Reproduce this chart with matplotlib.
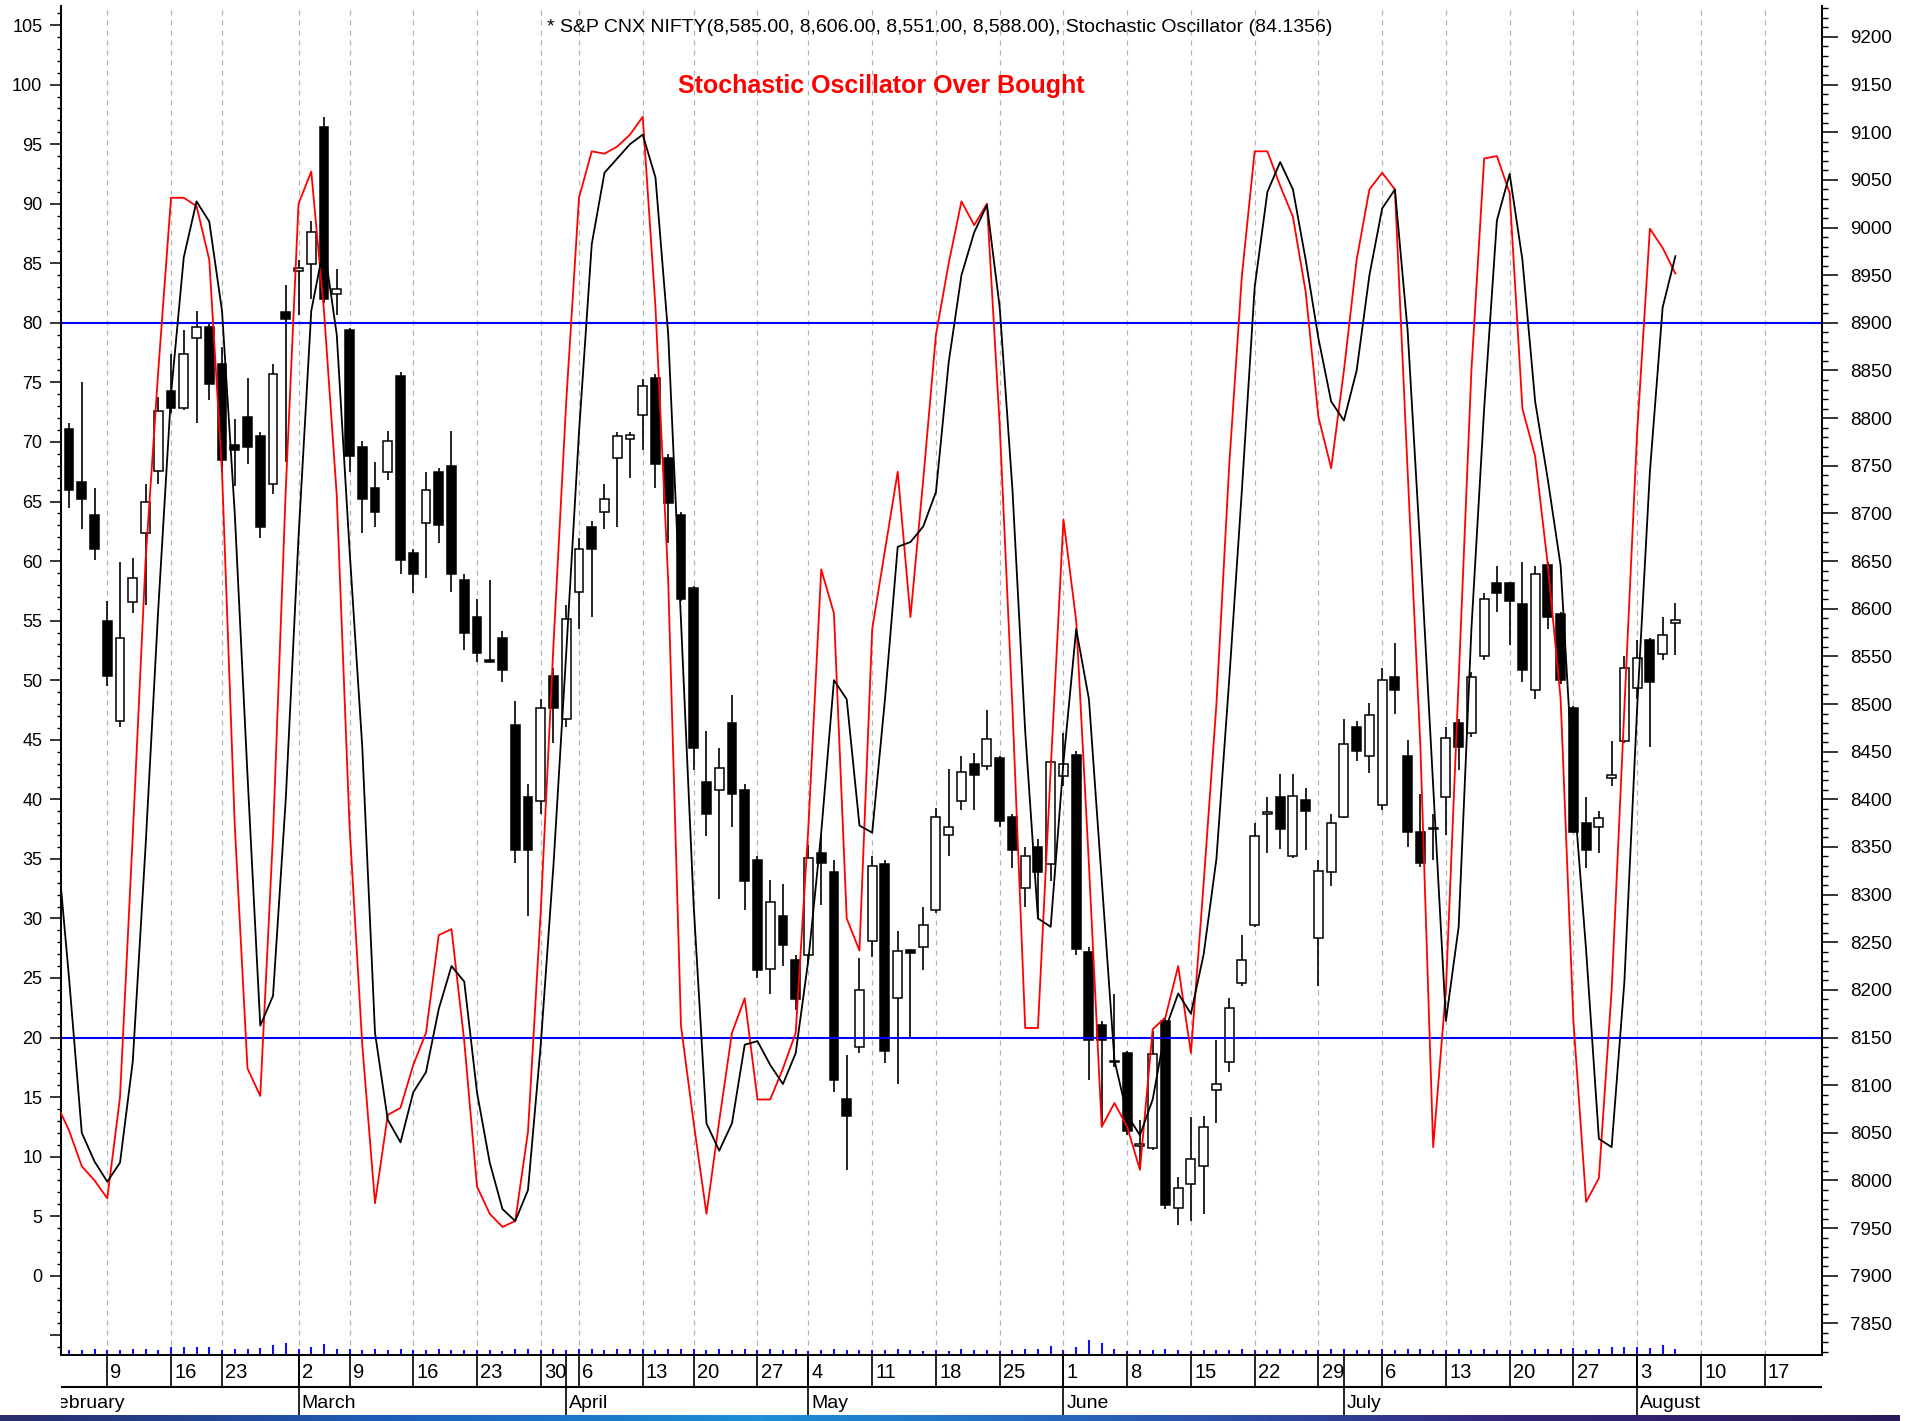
import numpy as np
import pandas as pd
import matplotlib
matplotlib.use('Agg')
import matplotlib.pyplot as plt
from matplotlib.patches import Rectangle
from matplotlib.colors import LinearSegmentedColormap

plt.rcParams['font.family'] = ['Liberation Sans', 'DejaVu Sans']
NARROW = ['Liberation Sans Narrow', 'Liberation Sans', 'DejaVu Sans']

# NSE trading calendar: weekdays minus holidays, plus the Budget Saturday session
holidays = ['2015-02-17', '2015-03-06', '2015-04-02', '2015-04-03', '2015-04-14', '2015-05-01']
extra_sessions = ['2015-02-28']
calendar = pd.bdate_range('2015-02-02', '2015-08-21')
calendar = calendar.drop(pd.to_datetime(holidays)).union(pd.to_datetime(extra_sessions))

# NIFTY daily candles, 4 Feb - 6 Aug 2015
candle_start = '2015-02-04'
opens = [8789, 8733, 8698, 8587, 8482, 8607, 8679, 8745, 8828, 8811,
         8884, 8896, 8857, 8772, 8801, 8781, 8731, 8911, 8954, 8962,
         9106, 8930, 8892, 8770, 8727, 8744, 8844, 8659, 8690, 8744,
         8750, 8630, 8591, 8546, 8569, 8478, 8402, 8398, 8529, 8484,
         8618, 8686, 8702, 8758, 8778, 8803, 8842, 8758, 8698, 8622,
         8418, 8410, 8480, 8410, 8336, 8222, 8278, 8231, 8237, 8344,
         8324, 8086, 8140, 8251, 8332, 8192, 8242, 8245, 8284, 8363,
         8398, 8437, 8435, 8443, 8381, 8307, 8350, 8332, 8424, 8447,
         8240, 8163, 8124, 8134, 8036, 8034, 8167, 7971, 7996, 8015,
         8095, 8124, 8207, 8268, 8385, 8402, 8340, 8399, 8254, 8324,
         8381, 8476, 8445, 8394, 8528, 8445, 8366, 8370, 8402, 8480,
         8470, 8550, 8627, 8627, 8605, 8515, 8646, 8594, 8496, 8375,
         8371, 8422, 8461, 8517, 8567, 8552, 8585]
highs = [8795, 8838, 8727, 8608, 8649, 8653, 8731, 8822, 8867, 8892,
         8912, 8900, 8875, 8799, 8842, 8785, 8857, 8940, 8966, 9007,
         9116, 8956, 8895, 8776, 8754, 8787, 8848, 8663, 8744, 8748,
         8787, 8636, 8610, 8630, 8577, 8503, 8416, 8505, 8538, 8604,
         8674, 8692, 8731, 8785, 8785, 8841, 8846, 8762, 8702, 8624,
         8472, 8454, 8509, 8416, 8340, 8315, 8311, 8237, 8352, 8363,
         8336, 8132, 8233, 8340, 8336, 8262, 8243, 8287, 8391, 8432,
         8445, 8449, 8494, 8445, 8385, 8350, 8358, 8441, 8470, 8451,
         8245, 8167, 8196, 8136, 8064, 8157, 8171, 8004, 8067, 8068,
         8147, 8192, 8258, 8375, 8402, 8427, 8427, 8412, 8336, 8385,
         8484, 8482, 8501, 8538, 8564, 8462, 8406, 8385, 8476, 8484,
         8534, 8616, 8645, 8628, 8649, 8645, 8649, 8597, 8498, 8402,
         8388, 8461, 8550, 8567, 8569, 8591, 8606]
lows = [8706, 8684, 8651, 8519, 8476, 8595, 8604, 8731, 8805, 8809,
        8795, 8819, 8744, 8729, 8752, 8674, 8720, 8754, 8908, 8925,
        8921, 8908, 8744, 8679, 8686, 8735, 8636, 8616, 8632, 8669,
        8618, 8557, 8544, 8544, 8523, 8333, 8278, 8385, 8459, 8476,
        8579, 8591, 8684, 8686, 8737, 8767, 8727, 8669, 8608, 8431,
        8361, 8295, 8371, 8284, 8212, 8196, 8225, 8179, 8229, 8289,
        8093, 8011, 8134, 8235, 8123, 8101, 8149, 8221, 8281, 8340,
        8389, 8389, 8431, 8371, 8328, 8287, 8274, 8314, 8414, 8237,
        8105, 8060, 8119, 8048, 8015, 8032, 7970, 7953, 7957, 7965,
        8060, 8114, 8204, 8266, 8344, 8348, 8338, 8347, 8204, 8309,
        8380, 8440, 8428, 8389, 8490, 8350, 8329, 8336, 8363, 8431,
        8465, 8546, 8597, 8562, 8523, 8505, 8579, 8521, 8365, 8328,
        8344, 8414, 8459, 8505, 8455, 8546, 8551]
closes = [8725, 8715, 8663, 8529, 8569, 8632, 8712, 8807, 8811, 8867,
          8896, 8836, 8756, 8767, 8770, 8686, 8846, 8904, 8958, 8995,
          8925, 8935, 8760, 8715, 8702, 8776, 8651, 8636, 8725, 8688,
          8636, 8575, 8554, 8544, 8536, 8347, 8347, 8496, 8496, 8589,
          8663, 8663, 8715, 8781, 8782, 8834, 8752, 8711, 8610, 8454,
          8385, 8433, 8406, 8314, 8221, 8292, 8247, 8190, 8338, 8333,
          8105, 8068, 8200, 8330, 8136, 8241, 8239, 8268, 8381, 8371,
          8429, 8426, 8463, 8377, 8347, 8340, 8324, 8439, 8437, 8243,
          8147, 8147, 8125, 8052, 8038, 8133, 7974, 7992, 8023, 8056,
          8101, 8181, 8231, 8361, 8387, 8369, 8404, 8388, 8325, 8375,
          8458, 8451, 8488, 8525, 8515, 8366, 8333, 8369, 8464, 8455,
          8528, 8610, 8616, 8608, 8536, 8636, 8591, 8525, 8366, 8347,
          8380, 8426, 8538, 8548, 8523, 8572, 8588]
volume = [5, 5, 6, 5, 5, 6, 6, 5, 8, 8, 8, 8, 5, 6, 6, 7, 10, 12, 6, 8,
          11, 6, 6, 5, 6, 5, 6, 5, 5, 6, 5, 5, 5, 5, 4, 6, 6, 5, 6, 5,
          6, 6, 5, 6, 6, 6, 5, 6, 6, 6, 5, 6, 5, 6, 5, 6, 5, 6, 4, 5,
          6, 5, 5, 5, 5, 6, 5, 4, 5, 4, 6, 5, 5, 4, 5, 6, 6, 9, 5, 8,
          15, 12, 6, 4, 5, 5, 6, 5, 4, 5, 5, 5, 6, 5, 5, 6, 5, 5, 5, 6,
          6, 5, 5, 6, 5, 6, 6, 5, 5, 6, 5, 6, 5, 5, 5, 6, 6, 6, 7, 5,
          6, 8, 8, 8, 7, 10, 6]

# Stochastic oscillator, 3 Feb - 6 Aug 2015
stoch_start = '2015-02-03'
stoch_k = [14.5, 12.2, 9.2, 8.0, 6.5, 15, 37, 60, 76, 90.5,
           90.5, 89.8, 85.3, 67.5, 37.8, 17.4, 15.1, 37, 66, 90,
           92.7, 81, 65.5, 37.8, 19.4, 6.1, 13.5, 14.1, 17.7, 20.4,
           28.6, 29.1, 19.7, 7.5, 5.2, 4.1, 4.6, 12.1, 30.6, 53,
           73.4, 90.5, 94.4, 94.2, 94.8, 95.8, 97.3, 81.3, 58.3, 21,
           12.8, 5.2, 13, 20.4, 23.3, 14.8, 14.8, 17.4, 20.4, 37.8,
           59.3, 55.6, 30, 27.3, 54.3, 60.9, 67.5, 55.3, 66.8, 79,
           85, 90.2, 88.2, 90, 71.4, 47.7, 20.8, 20.8, 42.5, 63.5,
           55, 34.5, 12.5, 14.5, 12.5, 8.9, 20.7, 21.7, 26, 18.7,
           33, 48, 68, 84, 94.4, 94.4, 91.5, 88.9, 82.6, 72.1,
           67.8, 76, 85.3, 91.2, 92.6, 91.2, 67.5, 44.4, 10.8, 24,
           50, 76, 93.8, 94, 90.9, 72.8, 68.8, 59.6, 48.4, 21.4,
           6.2, 8.2, 24, 47.7, 70.8, 87.9, 86.3, 84.1356]
stoch_d = [37, 25, 12, 9.6, 7.9, 9.5, 18, 36, 56, 74,
           85.5, 90.2, 88.5, 81, 64, 42, 21, 23.5, 40, 62,
           81, 86.5, 79, 61, 44.4, 20.4, 13.1, 11.2, 15.4, 17.1,
           22.4, 26, 24.7, 15.4, 9.5, 5.6, 4.6, 7.2, 19.4, 34.5,
           52.3, 70.8, 86.6, 92.6, 93.8, 95, 95.8, 92.2, 79, 55,
           31, 12.8, 10.5, 12.8, 19.4, 19.7, 17.7, 16.1, 18.7, 26.6,
           37.2, 50, 48.4, 37.8, 37.2, 48.4, 61.2, 61.6, 62.9, 65.8,
           76.7, 84, 87.6, 89.9, 81.3, 66, 45.7, 30, 29.3, 43.1,
           54.3, 48.4, 33.2, 18.1, 13.5, 11.8, 14.8, 20.7, 23.7, 22,
           27, 35, 50, 66, 83, 91, 93.5, 91.2, 85.3, 78.7,
           73.4, 71.8, 76, 84, 89.6, 91.2, 79.3, 60.9, 41.1, 21.4,
           29.3, 54.3, 72.8, 88.6, 92.5, 85.3, 73.4, 66.8, 59.6, 41.1,
           27.3, 11.5, 10.8, 24.7, 47.7, 67.5, 81.3, 85.6]
levels = [80, 20]

header = '* S&P CNX NIFTY(8,585.00, 8,606.00, 8,551.00, 8,588.00), Stochastic Oscillator (84.1356)'
title = 'Stochastic Oscillator Over Bought'
month_names = ['February', 'March', 'April', 'May', 'June', 'July', 'August']

# ---- positions on the trading-day axis
pos = {d: i for i, d in enumerate(calendar)}
c0 = pos[pd.Timestamp(candle_start)]
s0 = pos[pd.Timestamp(stoch_start)]
cx = np.arange(c0, c0 + len(opens))
sx = np.arange(s0, s0 + len(stoch_k))
mondays = [pos[d] for d in calendar if d.weekday() == 0]
monday_days = [d.day for d in calendar if d.weekday() == 0]
month_first = pd.Series(calendar).groupby(calendar.month).min()
month_pos = [pos[d] for d in month_first]

feb9 = pos[pd.Timestamp('2015-02-09')]
XLIM = (feb9 - 3.63, feb9 + 134.5)
SLIM = (-6.65, 106.6)
PLIM = (7900 + 12.5 * SLIM[0], 7900 + 12.5 * SLIM[1])  # 20 <-> 8150, 80 <-> 8900

W, H = 1923, 1421
L, R, T, B = 61, 1822, 6, 1355
fig = plt.figure(figsize=(W / 100, H / 100), dpi=100)
fig.patch.set_facecolor('white')

ax = fig.add_axes([L / W, 1 - B / H, (R - L) / W, (B - T) / H])
ax_s = ax.twinx()

# price panel (right scale)
ax.set_xlim(*XLIM)
ax.set_ylim(*PLIM)
for m in mondays:
    ax.axvline(m, color='#b2b2b2', lw=0.9, ls=(0, (4, 4)), zorder=1)
for x, o, h, l, c in zip(cx, opens, highs, lows, closes):
    ax.vlines(x, l, h, color='black', lw=1.2, zorder=2)
    ax.add_patch(Rectangle((x - 0.35, min(o, c)), 0.7, max(abs(c - o), 1.2),
                           facecolor='black' if c < o else 'white',
                           edgecolor='black', lw=1.1, zorder=3))
ax.vlines(cx, 0, np.array(volume) / (B - T), transform=ax.get_xaxis_transform(),
          color='#1010ff', lw=1.5, zorder=2)

ax.yaxis.tick_right()
ax.set_yticks(np.arange(7850, 9201, 50))
ax.set_yticks(np.arange(7820, 9231, 10), minor=True)
ax.tick_params(axis='y', which='major', direction='out', length=11.3, width=1.1,
               pad=9, labelsize=13.5)
ax.tick_params(axis='y', which='minor', direction='out', length=4, width=1)
ax.set_xticks([])

# stochastic panel (left scale)
ax_s.set_ylim(*SLIM)
for lv in levels:
    ax_s.axhline(lv, color='#0000ff', lw=1.5, zorder=2)
ax_s.plot(sx, stoch_k, color='#ff0000', lw=1.3, zorder=4)
ax_s.plot(sx, stoch_d, color='black', lw=1.3, zorder=4)
ax_s.yaxis.tick_left()
left_ticks = np.arange(-5, 106, 5)
ax_s.set_yticks(left_ticks)
ax_s.set_yticklabels([str(v) if v >= 0 else '' for v in left_ticks])
ax_s.set_yticks(np.arange(-6, 107, 1), minor=True)
ax_s.tick_params(axis='y', which='major', direction='out', length=8, width=1.1,
                 pad=5.5, labelsize=13)
ax_s.tick_params(axis='y', which='minor', direction='out', length=3, width=1)
ax_s.set_xticks([])

for a in (ax, ax_s):
    a.spines['top'].set_visible(False)
    for side in ('left', 'right', 'bottom'):
        a.spines[side].set_linewidth(1.3)

# date rows under the chart
ax_d = fig.add_axes([L / W, 1 - 1416 / H, (R - L) / W, (1416 - B) / H])
ax_d.set_xlim(*XLIM)
ax_d.set_ylim(61, 0)
ax_d.axis('off')
ax_d.hlines(32, *XLIM, color='black', lw=1.5)
ax_d.vlines(mondays, 0, 32, color='black', lw=1.2)
ax_d.vlines(month_pos, 0, 61, color='black', lw=1.2)
for m, dnum in zip(mondays, monday_days):
    ax_d.text(m + 0.25, 17, str(dnum), ha='left', va='center', fontsize=14.5,
              family=NARROW, clip_on=True)
for m, name in zip(month_pos, month_names):
    ax_d.text(m + 0.25, 49, name, ha='left', va='center', fontsize=14,
              family=NARROW, clip_on=True)

# gradient strip at the very bottom
ax_g = fig.add_axes([0, 0, 1900 / W, 6 / H])
grad = LinearSegmentedColormap.from_list(
    'strip', ['#2a2c6c', '#1d5db8', '#1c8fd6', '#2a5bb5', '#35257a', '#2a1a5c'])
ax_g.imshow(np.linspace(0, 1, 512)[None, :], aspect='auto', cmap=grad)
ax_g.axis('off')

fig.text(940 / W, 1 - 27 / H, header, ha='center', va='center', fontsize=14,
         family=NARROW)
fig.text(881 / W, 1 - 86 / H, title, ha='center', va='center', fontsize=18,
         color='#ff0000', fontweight='bold', family=NARROW)

fig.savefig('out.png', dpi=100, facecolor='white')
